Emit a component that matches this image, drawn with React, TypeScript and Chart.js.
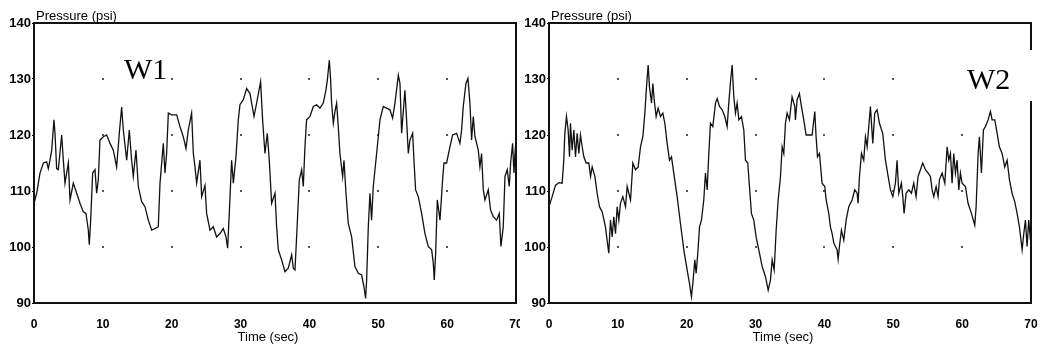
import { useEffect, useRef } from 'react';
import { Chart, registerables } from 'chart.js';

Chart.register(...registerables);

// ---- Data ----
const timeTicks = [0, 10, 20, 30, 40, 50, 60, 70];
const pressureTicks = [90, 100, 110, 120, 130, 140];
const gridTimes = [10, 20, 30, 40, 50, 60];
const gridPressures = [100, 110, 120, 130];

const w1Time = [
  0, 0.39, 0.87, 1.36, 1.84, 2.08, 2.32, 2.57, 2.9, 3.05, 3.29, 3.53, 4.02, 4.26, 4.5, 4.99, 5.23, 5.71, 6.2, 6.68,
  7.16, 7.55, 7.89, 8.03, 8.23, 8.52, 8.86, 9.1, 9.34, 9.58, 10.07, 10.55, 11.04, 11.52, 12.0, 12.39, 12.73, 12.97,
  13.46, 13.84, 14.18, 14.42, 14.81, 15.15, 15.63, 16.12, 16.6, 17.09, 17.57, 18.05, 18.3, 18.78, 19.02, 19.26,
  19.51, 19.99, 20.72, 21.2, 21.68, 22.07, 22.41, 22.89, 23.14, 23.38, 23.62, 24.1, 24.35, 24.83, 25.07, 25.56,
  26.04, 26.52, 27.01, 27.49, 27.88, 28.12, 28.36, 28.7, 28.95, 29.33, 29.67, 29.91, 30.4, 30.88, 31.37, 31.95,
  32.33, 32.91, 33.2, 33.54, 33.88, 34.17, 34.51, 35.0, 35.24, 35.48, 35.96, 36.45, 36.93, 37.42, 37.66, 37.9,
  38.14, 38.53, 38.87, 39.11, 39.35, 39.59, 40.08, 40.56, 41.05, 41.53, 42.01, 42.4, 42.6, 42.89, 43.08, 43.22,
  43.47, 43.71, 43.95, 44.19, 44.43, 44.82, 45.02, 45.31, 45.64, 46.13, 46.61, 47.1, 47.58, 47.92, 48.16, 48.31,
  48.55, 48.79, 49.03, 49.27, 49.76, 50.24, 50.73, 51.21, 51.7, 52.08, 52.42, 52.91, 53.15, 53.39, 53.63, 53.87,
  54.11, 54.36, 54.6, 54.99, 55.18, 55.42, 55.81, 56.29, 56.78, 57.26, 57.75, 57.99, 58.13, 58.33, 58.57, 58.96,
  59.34, 59.54, 59.92, 60.41, 60.79, 61.38, 61.86, 62.1, 62.34, 62.73, 63.02, 63.31, 63.55, 63.8, 64.04, 64.52,
  64.76, 65.0, 65.25, 65.49, 65.97, 66.31, 66.7, 67.18, 67.57, 67.81, 68.15, 68.4, 68.73, 69.02, 69.22, 69.51,
  69.7, 69.85, 70,
];
const w1Pressure = [
  107.8, 109.6, 113.2, 115, 115.2, 114, 115.5, 117.3, 122.7, 120.3, 114, 113.8, 120, 115.5, 111.4, 115, 108.4, 111.4,
  109.6, 107.8, 106.3, 106, 103, 100.4, 104.8, 113.2, 113.8, 109.6, 112, 119.1, 119.7, 120, 118.5, 117.3, 114.3,
  120.3, 125, 120.9, 115.5, 120.9, 115.5, 112.6, 117.3, 110.8, 108.1, 107.2, 104.8, 103, 103.3, 103.6, 111.4, 118.5,
  113.2, 116.7, 123.9, 123.6, 123.6, 121.5, 119.7, 117.6, 120.9, 123.9, 116.7, 114.3, 111.4, 115.5, 109, 111, 106,
  103, 103.6, 101.8, 102.4, 103.3, 101.8, 99.8, 106, 115.5, 111.4, 116.1, 122.7, 125.4, 126.3, 128.3, 127.4, 123.3,
  125.7, 129.5, 122.7, 116.7, 120.3, 115.5, 107.8, 109.6, 103.6, 99.5, 97.7, 95.6, 96.2, 98.6, 96.2, 95.9, 101.8,
  112, 113.8, 110.8, 117.9, 122.7, 123.3, 125.1, 125.4, 124.8, 125.7, 128, 129.8, 133.4, 129.8, 125.7, 122.1,
  124.2, 125.7, 121.5, 116.7, 112.6, 115.5, 109.6, 104.2, 101.8, 96.5, 95.3, 95, 92.9, 90.8, 94.1, 103.6, 109.6,
  104.8, 110.8, 116.7, 122.7, 125.1, 124.8, 124.5, 123, 125.7, 130.7, 129.2, 120.3, 124.2, 128, 122.7, 116.7,
  119.1, 120.3, 115.5, 110.2, 109, 106, 102.4, 100.1, 99.5, 97.1, 94.1, 98.9, 108.4, 104.8, 112, 115, 115, 117.9,
  120, 120.3, 118.5, 120.9, 125.1, 129.2, 130.1, 125.7, 119.1, 123.3, 119.7, 117.3, 114.3, 116.7, 110.2, 108.4,
  110.2, 106.6, 105.4, 104.8, 106, 100.1, 103.6, 112.6, 113.8, 110.8, 115, 118.5, 113.2, 116.7, 119,
];

const w2Time = [
  0, 0.46, 0.94, 1.43, 1.91, 2.15, 2.3, 2.54, 2.78, 2.98, 3.12, 3.36, 3.61, 3.85, 4.09, 4.33, 4.57, 4.82, 5.06,
  5.4, 5.78, 6.03, 6.27, 6.66, 6.99, 7.33, 7.72, 8.2, 8.44, 8.68, 8.93, 9.17, 9.41, 9.66, 9.9, 10.14, 10.38, 10.72,
  11.11, 11.35, 11.84, 12.18, 12.56, 12.95, 13.29, 13.63, 13.92, 14.16, 14.4, 14.59, 14.89, 15.08, 15.28, 15.56,
  15.85, 16.19, 16.53, 16.82, 17.16, 17.5, 17.79, 18.12, 18.61, 19.09, 19.58, 20.06, 20.4, 20.69, 20.89, 21.18,
  21.37, 21.61, 21.86, 22.14, 22.48, 22.72, 22.97, 23.21, 23.45, 23.79, 24.18, 24.42, 24.76, 25.15, 25.53, 25.87,
  26.11, 26.36, 26.6, 26.84, 27.08, 27.32, 27.57, 27.95, 28.29, 28.53, 28.87, 29.11, 29.4, 29.74, 30.08, 30.47,
  30.96, 31.44, 31.83, 32.16, 32.41, 32.7, 32.99, 33.28, 33.62, 33.86, 34.1, 34.34, 34.58, 34.92, 35.3, 35.69,
  35.79, 36.03, 36.37, 36.66, 37.0, 37.34, 37.83, 38.21, 38.6, 38.79, 38.99, 39.28, 39.66, 40.05, 40.25, 40.63,
  40.87, 41.12, 41.36, 41.6, 41.84, 41.99, 42.18, 42.47, 42.81, 43.15, 43.54, 44.02, 44.41, 44.75, 44.89, 45.09,
  45.38, 45.71, 45.96, 46.2, 46.44, 46.68, 47.02, 47.31, 47.65, 47.99, 48.47, 48.86, 49.25, 49.59, 49.93, 50.31,
  50.55, 50.8, 51.18, 51.38, 51.57, 51.86, 52.25, 52.64, 52.97, 53.31, 53.6, 53.94, 54.28, 54.67, 55.06, 55.39,
  55.64, 55.88, 56.22, 56.51, 56.7, 57.09, 57.48, 57.82, 58.06, 58.3, 58.54, 58.78, 59.03, 59.27, 59.51, 59.75,
  59.99, 60.48, 60.86, 61.35, 61.83, 62.03, 62.32, 62.51, 62.8, 63.09, 63.38, 63.77, 64.11, 64.35, 64.74, 65.08,
  65.41, 65.8, 66.19, 66.53, 66.87, 67.25, 67.64, 67.98, 68.32, 68.71, 68.95, 69.19, 69.43, 69.67, 69.92,
];
const w2Pressure = [
  107.2, 109, 111, 111.5, 111.4, 115.5, 120.3, 123.3, 120.9, 116.1, 122.1, 117.3, 120.9, 116.1, 120.3, 116.7, 120,
  117.9, 116.1, 115, 115, 112.6, 114.3, 112.6, 109.6, 107.2, 106.3, 103.6, 101.2, 98.9, 104.8, 101.8, 105.4, 102.4,
  107.2, 104.8, 107.8, 109, 107.2, 110.8, 108.4, 115, 113.8, 114.3, 117.9, 119.7, 123.9, 128.6, 132.5, 128.6, 125.7,
  129.2, 126.3, 123.3, 124.8, 123.3, 123.9, 122.1, 118.5, 115.5, 116.1, 113.2, 109, 104.2, 99.5, 95.9, 93.5, 91.1,
  93.5, 97.7, 95.3, 98.9, 103.6, 104.8, 108.4, 113.2, 110.2, 116.7, 122.1, 121.5, 125.7, 126.5, 125.1, 124.5,
  123.3, 121.5, 125.7, 129.5, 132.5, 126.8, 123.9, 125.7, 122.7, 123.3, 120.9, 115.5, 115, 110.8, 106, 104.8,
  101.8, 99.5, 96.5, 94.7, 92.3, 94.1, 97.7, 95.9, 103, 108.4, 112.6, 117.9, 116.7, 122.1, 123.9, 122.7, 126.8,
  125.1, 122.7, 126.3, 127.4, 125.1, 122.7, 120, 120, 120, 124.2, 119.7, 116.1, 116.7, 111.4, 110.8, 108.4, 106,
  103.6, 102.4, 100.7, 100.1, 99.5, 97.8, 100.1, 103, 101.2, 104.8, 107.2, 108.4, 110.2, 109.6, 107.8, 112.6,
  116.7, 115.5, 119.7, 117.9, 121.5, 125.1, 118.5, 123.9, 124.5, 122.1, 120.3, 115.5, 112.6, 110.2, 109, 111.4,
  115.5, 109.6, 111.4, 109, 106, 109.6, 110.2, 109.6, 111.4, 109, 112.6, 113.8, 115, 113.8, 113.2, 112.6, 110.2,
  109, 110.8, 109, 112, 113.2, 111.4, 117.9, 115.5, 116.7, 111.4, 116.7, 113.2, 115.5, 110.2, 113.2, 111.4, 110.8,
  107.8, 106, 103.9, 107.2, 116.7, 119.7, 113.2, 120.9, 121.5, 122.7, 124.2, 122.7, 122.7, 120.3, 117.9, 116.7,
  114.3, 115.5, 112, 109.6, 108.1, 106, 103.6, 99.5, 102.4, 104.8, 100.1, 104.8, 101.2,
];

const yAxisTitle = 'Pressure (psi)';
const xAxisTitle = 'Time (sec)';

type PanelSpec = {
  tag: string;
  time: number[];
  pressure: number[];
  canvasWidth: number;
  yAxisWidth: number;
  rightPad: number;
  tagDx: number;
  tagDy: number;
  mask?: { x: number; y: number; w: number; h: number };
};

const panels: PanelSpec[] = [
  { tag: 'W1', time: w1Time, pressure: w1Pressure, canvasWidth: 520, yAxisWidth: 34, rightPad: 4, tagDx: 90, tagDy: 56 },
  {
    tag: 'W2', time: w2Time, pressure: w2Pressure, canvasWidth: 522, yAxisWidth: 29, rightPad: 11, tagDx: 418, tagDy: 66,
    mask: { x: 436, y: 50, w: 86, h: 51 },
  },
];

const H = 350;
const TOP = 23;
const XAXIS_H = 47;
const SANS = '"Liberation Sans", Arial, sans-serif';

function PanelChart({ spec }: { spec: PanelSpec }) {
  const ref = useRef<HTMLCanvasElement>(null);
  useEffect(() => {
    if (!ref.current) return;
    const decor = {
      id: 'decor',
      beforeDatasetsDraw(chart: any) {
        const { ctx, scales } = chart;
        ctx.save();
        ctx.fillStyle = '#555';
        for (const t of gridTimes) {
          for (const v of gridPressures) {
            const px = Math.round(scales.x.getPixelForValue(t));
            const py = Math.round(scales.y.getPixelForValue(v));
            ctx.fillRect(px - 1, py - 1, 2, 2);
          }
        }
        ctx.restore();
      },
      afterDatasetsDraw(chart: any) {
        const { ctx, chartArea: a } = chart;
        ctx.save();
        ctx.strokeStyle = '#111';
        ctx.lineWidth = 2;
        ctx.strokeRect(a.left, a.top, a.right - a.left, a.bottom - a.top);
        if (spec.mask) {
          ctx.fillStyle = '#fff';
          ctx.fillRect(spec.mask.x, spec.mask.y, spec.mask.w, spec.mask.h);
        }
        ctx.fillStyle = '#000';
        ctx.font = `30px "Liberation Serif", "Times New Roman", serif`;
        ctx.textAlign = 'left';
        ctx.textBaseline = 'alphabetic';
        ctx.fillText(spec.tag, a.left + spec.tagDx, a.top + spec.tagDy);
        ctx.font = `13px ${SANS}`;
        ctx.fillText(yAxisTitle, a.left + 2, a.top - 3);
        ctx.textAlign = 'center';
        ctx.fillText(xAxisTitle, (a.left + a.right) / 2 - 7, 341);
        ctx.restore();
      },
    };
    const chart = new Chart(ref.current, {
      type: 'line',
      data: {
        datasets: [
          {
            data: spec.time.map((t, i) => ({ x: t, y: spec.pressure[i] })),
            borderColor: '#111',
            borderWidth: 1.3,
            pointRadius: 0,
            tension: 0,
            fill: false,
          },
        ],
      },
      options: {
        animation: false,
        responsive: false,
        maintainAspectRatio: false,
        events: [],
        layout: { padding: { top: TOP, right: spec.rightPad, left: 0, bottom: 0 } },
        plugins: { legend: { display: false }, tooltip: { enabled: false }, title: { display: false } },
        scales: {
          x: {
            type: 'linear',
            min: timeTicks[0],
            max: timeTicks[timeTicks.length - 1],
            afterBuildTicks: (s: any) => { s.ticks = timeTicks.map((v) => ({ value: v })); },
            afterFit: (s: any) => {
              s.height = XAXIS_H;
              s.paddingLeft = 0; s.paddingRight = 0; s.paddingTop = 0; s.paddingBottom = 0;
            },
            grid: { display: false },
            border: { display: false },
            ticks: { color: '#000', padding: 6, maxRotation: 0, autoSkip: false, font: { family: SANS, size: 12, weight: 'bold' } },
          },
          y: {
            type: 'linear',
            min: pressureTicks[0],
            max: pressureTicks[pressureTicks.length - 1],
            afterBuildTicks: (s: any) => { s.ticks = pressureTicks.map((v) => ({ value: v })); },
            afterFit: (s: any) => {
              s.width = spec.yAxisWidth;
              s.paddingLeft = 0; s.paddingRight = 0; s.paddingTop = 0; s.paddingBottom = 0;
            },
            grid: { display: true, drawOnChartArea: false, drawTicks: true, tickLength: 2, color: '#000' },
            border: { display: false },
            ticks: { color: '#000', padding: 1, autoSkip: false, font: { family: SANS, size: 13, weight: 'bold' } },
          },
        },
      } as any,
      plugins: [decor],
    });
    return () => chart.destroy();
  }, [spec]);
  return <canvas ref={ref} width={spec.canvasWidth} height={H} style={{ width: spec.canvasWidth, height: H, display: 'block' }} />;
}

export default function App() {
  return (
    <div style={{ position: 'fixed', left: 0, top: 0, width: 1042, height: H, background: '#fff', display: 'flex' }}>
      {panels.map((p) => (
        <PanelChart key={p.tag} spec={p} />
      ))}
    </div>
  );
}
